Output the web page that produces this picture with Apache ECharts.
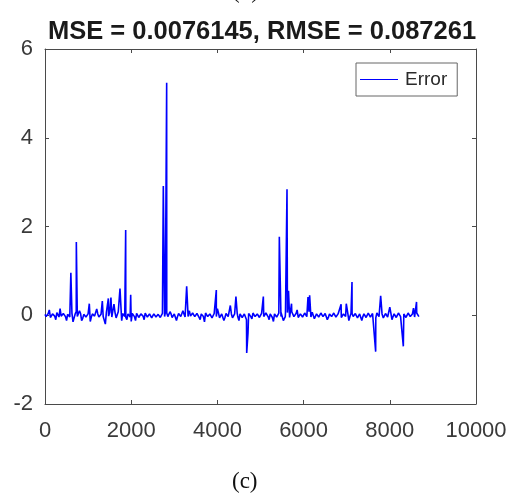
<!DOCTYPE html>
<html>
<head>
<meta charset="utf-8">
<script src="https://cdn.jsdelivr.net/npm/echarts@6/dist/echarts.min.js"></script>
<style>html,body{margin:0;padding:0;background:#fff}#c{width:510px;height:496px}</style>
</head>
<body>
<div id="c"></div>
<script>
const titleText = 'MSE = 0.0076145, RMSE = 0.087261';
const seriesName = 'Error';
const xTicks = [0, 2000, 4000, 6000, 8000, 10000];
const yTicks = [-2, 0, 2, 4, 6];
const hours = [0,50,100,150,200,250,300,350,400,450,500,550,600,650,700,727,750,800,850,900,950,1000,1028,1050,1100,1150,1200,1250,1300,1330,1350,1400,1450,1470,1500,1530,1550,1600,1650,1700,1740,1780,1800,1850,1872,1900,1950,1988,2000,2050,2100,2150,2200,2250,2300,2350,2400,2450,2500,2550,2600,2650,2700,2745,2790,2823,2850,2900,2950,3000,3050,3100,3150,3200,3250,3287,3320,3350,3400,3450,3500,3550,3600,3650,3700,3750,3800,3850,3900,3950,3975,4000,4050,4100,4150,4200,4250,4300,4350,4400,4430,4460,4500,4550,4600,4650,4680,4710,4750,4800,4850,4900,4950,5000,5066,5100,5150,5200,5250,5300,5350,5400,5437,5480,5530,5580,5615,5650,5700,5720,5760,5800,5850,5900,5950,6000,6050,6102,6140,6170,6200,6250,6300,6350,6400,6450,6500,6550,6600,6650,6700,6750,6800,6870,6900,6950,6990,7050,7100,7123,7150,7200,7250,7300,7350,7400,7450,7500,7550,7600,7672,7700,7750,7788,7820,7850,7900,7950,8000,8050,8100,8150,8200,8250,8314,8350,8400,8450,8500,8550,8600,8620,8650];
const errors = [0.02,-0.03,0.12,-0.02,0.03,-0.10,0.02,0.15,-0.03,0.02,-0.12,0.03,0.96,-0.15,0.03,1.65,-0.03,0.10,-0.12,0.02,-0.04,0.03,0.26,-0.14,0.03,-0.02,0.14,-0.04,0.02,0.32,-0.03,-0.20,0.10,0.38,0.06,0.40,-0.04,0.25,-0.06,0.08,0.60,-0.12,0.04,-0.03,1.92,-0.10,0.06,0.46,-0.14,0.03,-0.12,0.02,-0.04,0.03,-0.10,0.02,-0.03,0.02,-0.08,0.03,-0.02,0.04,-0.03,2.91,0.05,5.24,-0.03,0.08,-0.05,0.03,-0.12,0.04,-0.03,0.10,-0.04,0.65,-0.03,0.10,-0.06,0.04,-0.03,0.02,-0.10,0.03,-0.15,0.02,-0.04,0.05,-0.02,0.03,0.57,0.15,-0.06,0.03,-0.12,0.04,-0.03,0.22,-0.06,0.03,0.42,0.04,-0.12,0.03,-0.05,0.03,-0.85,-0.40,0.03,-0.08,0.04,-0.03,0.06,-0.05,0.42,-0.03,0.03,-0.10,0.04,-0.14,0.02,-0.04,1.77,0.05,-0.12,0.07,2.84,0.55,-0.06,0.26,0.04,-0.07,0.12,-0.05,0.04,-0.03,0.03,0.41,0.45,-0.04,0.07,-0.08,0.03,-0.04,0.05,-0.03,0.04,-0.10,0.03,-0.03,0.05,-0.04,0.03,0.25,-0.05,0.04,0.26,-0.12,0.04,0.75,-0.03,0.04,-0.06,0.03,-0.12,0.03,-0.05,0.05,-0.04,0.04,-0.82,0.05,-0.03,0.44,0.03,-0.06,0.04,-0.04,0.18,-0.10,0.03,-0.05,0.05,-0.03,-0.70,0.05,-0.06,0.04,-0.04,0.16,-0.05,0.30,0.02];
const fillHours = [25,75,125,175,225,275,325,375,425,475,525,575,625,675,725,775,825,875,925,975,1025,1075,1125,1175,1225,1275,1325,1375,1425,1475,1525,1575,1625,1675,1725,1775,1825,1875,1925,1975,2025,2075,2125,2175,2225,2275,2325,2375,2425,2475,2525,2575,2625,2675,2725,2775,2825,2875,2925,2975,3025,3075,3125,3175,3225,3275,3325,3375,3425,3475,3525,3575,3625,3675,3725,3775,3825,3875,3925,3975,4025,4075,4125,4175,4225,4275,4325,4375,4425,4475,4525,4575,4625,4675,4725,4775,4825,4875,4925,4975,5025,5075,5125,5175,5225,5275,5325,5375,5425,5475,5525,5575,5625,5675,5725,5775,5825,5875,5925,5975,6025,6075,6125,6175,6225,6275,6325,6375,6425,6475,6525,6575,6625,6675,6725,6775,6825,6875,6925,6975,7025,7075,7125,7175,7225,7275,7325,7375,7425,7475,7525,7575,7625,7675,7725,7775,7825,7875,7925,7975,8025,8075,8125,8175,8225,8275,8325,8375,8425,8475,8525,8575,8625,8675];
const fillErrors = [-0.03,0.04,-0.05,0.03,-0.02,0.06,-0.04,-0.02,0.04,-0.03,
0.02,-0.04,0.05,-0.06,0.08,-0.03,0.04,-0.07,0.03,-0.02,
0.05,-0.04,0.03,-0.06,0.03,-0.04,0.05,-0.03,0.07,-0.02,
0.10,-0.04,0.06,-0.03,0.07,-0.05,0.03,-0.05,0.03,-0.04,
0.04,-0.03,0.04,-0.05,0.03,-0.02,0.05,-0.04,0.03,-0.06,
0.03,-0.04,0.02,-0.05,0.04,-0.03,0.05,-0.03,0.03,-0.04,
0.04,-0.03,0.05,-0.04,0.03,-0.05,0.03,-0.02,0.05,-0.03,
0.04,-0.05,0.03,-0.03,0.05,-0.03,0.03,-0.06,0.04,-0.03,
0.05,-0.03,0.04,-0.05,0.03,-0.06,0.03,-0.03,0.05,-0.04,
0.03,-0.05,0.03,-0.10,0.04,-0.03,0.05,-0.03,0.03,-0.05,
0.04,-0.03,0.05,-0.03,0.03,-0.05,0.03,-0.04,0.05,-0.03,
0.03,-0.03,0.06,-0.05,0.08,-0.03,0.04,-0.05,0.03,-0.04,
0.05,-0.03,0.08,-0.04,0.03,-0.05,0.03,-0.03,0.05,-0.03,
0.04,-0.05,0.03,-0.03,0.05,-0.04,0.03,-0.05,0.03,-0.03,
0.05,-0.03,0.04,-0.05,0.03,-0.03,0.05,-0.03,0.04,-0.05,
0.03,-0.04,0.03,-0.06,0.05,-0.03,0.03,-0.05,0.04,-0.03,
0.05,-0.03,0.03,-0.05,0.04,-0.03,0.03,-0.05,0.05,-0.03,
0.03,-0.04,0.05,-0.03];

const data = hours.map((h, i) => [h, errors[i]])
  .concat(fillHours.map((h, i) => [h, fillErrors[i]]))
  .sort((a, b) => a[0] - b[0]);
const chart = echarts.init(document.getElementById('c'), null, {renderer: 'canvas'});
const axisCol = '#4a4a4a';
const labelStyle = {color: '#3a3a3a', fontSize: 22, fontFamily: 'Liberation Sans, Arial, sans-serif'};
const xMin = xTicks[0], xMax = xTicks[xTicks.length - 1];
const yMin = yTicks[0], yMax = yTicks[yTicks.length - 1];
function xAx(pos, show) {
  return {type: 'value', position: pos, min: xMin, max: xMax, interval: 2000,
    axisLine: {show: true, onZero: false, lineStyle: {color: axisCol, width: 1}},
    axisTick: {show: true, inside: true, length: 4, lineStyle: {color: axisCol}},
    axisLabel: show ? Object.assign({margin: 16, formatter: v => String(v)}, labelStyle) : {show: false},
    splitLine: {show: false}};
}
function yAx(pos, show) {
  return {type: 'value', position: pos, min: yMin, max: yMax, interval: 2,
    axisLine: {show: true, onZero: false, lineStyle: {color: axisCol, width: 1}},
    axisTick: {show: true, inside: true, length: 4, lineStyle: {color: axisCol}},
    axisLabel: show ? Object.assign({margin: 12, formatter: v => String(v)}, labelStyle) : {show: false},
    splitLine: {show: false}};
}
chart.setOption({
  animation: false,
  backgroundColor: '#fff',
  title: {text: titleText, left: 257, top: 14, textAlign: 'center',
    textStyle: {fontSize: 25.5, fontWeight: 'bold', color: '#1a1a1a', fontFamily: 'Liberation Sans, Arial, sans-serif'}},
  grid: {left: 45, right: 34, top: 49, bottom: 92},
  xAxis: [xAx('bottom', true), xAx('top', false)],
  yAxis: [yAx('left', true), yAx('right', false)],
  legend: {data: [seriesName], left: 356, top: 63, orient: 'vertical',
    icon: 'rect', itemWidth: 38, itemHeight: 1.2, itemGap: 0,
    padding: [7, 10, 7, 4],
    borderColor: '#666', borderWidth: 1, backgroundColor: '#fff', borderRadius: 0,
    textStyle: {fontSize: 19, color: '#2a2a2a', padding: [0, 0, 0, 2], fontFamily: 'Liberation Sans, Arial, sans-serif'}},
  series: [{name: seriesName, type: 'line', data: data, showSymbol: false, symbol: 'none',
    lineStyle: {color: '#0000ff', width: 1.6}, itemStyle: {color: '#0000ff'}}],
  graphic: [
    {type: 'text', left: 232, top: 470, style: {text: '(c)', fontSize: 23, fill: '#111', fontFamily: 'Liberation Serif, Times New Roman, serif'}},
    {type: 'text', left: 232, top: -20, style: {text: '(b)', fontSize: 23, fill: '#111', fontFamily: 'Liberation Serif, Times New Roman, serif'}}
  ]
});
</script>
</body>
</html>
